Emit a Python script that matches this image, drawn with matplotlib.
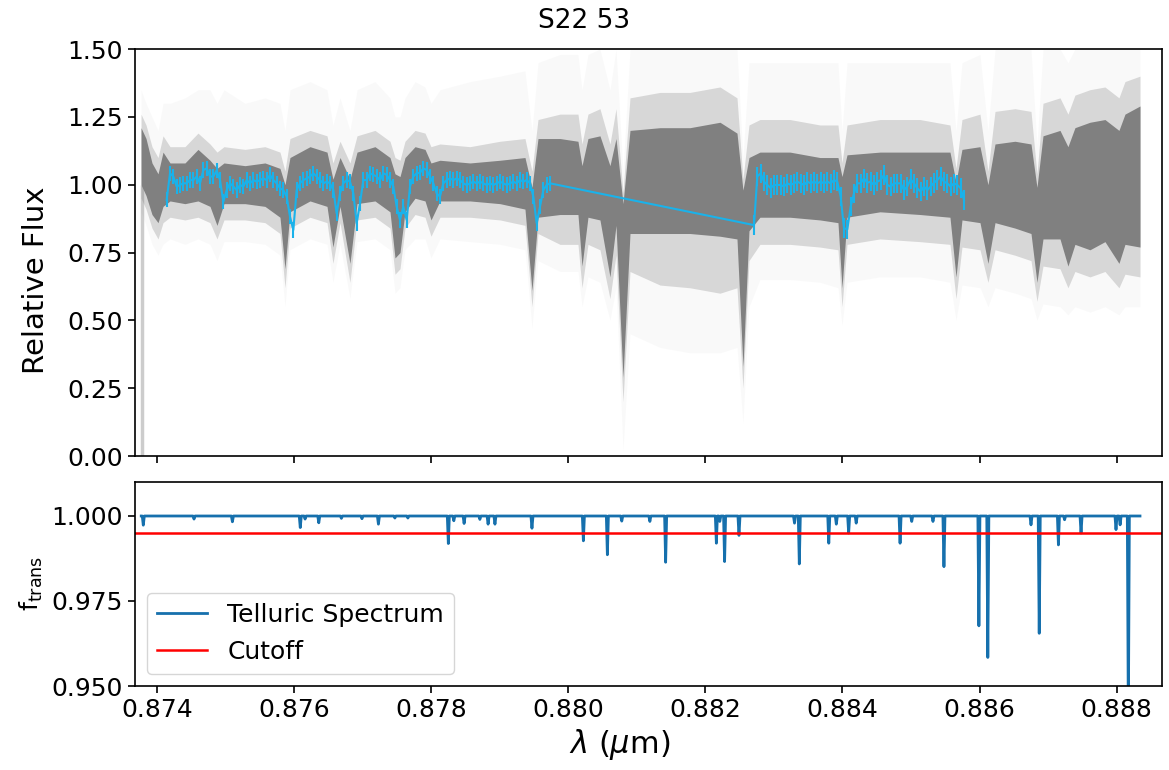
import numpy as np
import matplotlib
matplotlib.use("Agg")
import matplotlib.pyplot as plt
from matplotlib.ticker import FormatStrFormatter

# observed spectrum, two chunks on a regular pixel grid (um)
obs1_start, obs1_end = 0.874141, 0.879733
obs1_flux = [0.944, 1.042, 1.030, 0.993, 0.999, 1.005, 1.005, 1.017, 1.017, 1.030,
             1.005, 1.054, 1.060, 1.030, 1.030, 1.052, 1.017, 0.937, 0.980, 1.005,
             0.993, 0.980, 0.999, 0.993, 1.017, 1.005, 1.017, 1.011, 1.017, 1.023,
             1.017, 1.036, 1.017, 1.005, 0.987, 0.980, 0.956, 0.882, 0.833, 0.980,
             1.005, 1.017, 1.023, 1.030, 1.042, 1.030, 1.017, 1.005, 1.011, 1.005,
             0.980, 0.894, 0.968, 1.005, 1.017, 1.011,
             0.968, 0.858, 0.931, 1.017, 1.017, 1.042, 1.036, 1.030, 1.017, 1.042,
             1.036, 1.017, 0.993, 0.919, 0.870, 0.919, 0.870, 0.993, 1.030, 1.042,
             1.044, 1.060, 1.054, 1.030, 1.005, 0.968, 0.956, 1.005, 1.017, 1.023,
             1.017, 1.023, 1.017, 1.005, 0.999, 1.005, 1.011, 1.005, 1.011, 1.005,
             0.999, 1.005, 0.999, 1.005, 1.011, 1.005, 0.999, 1.005, 1.011, 1.005,
             1.017, 1.011, 1.017, 1.005, 0.956, 0.858, 0.919, 0.980, 0.999, 1.005]
obs1_err = 0.028

obs2_start, obs2_end = 0.882709, 0.885772
obs2_flux = [0.851, 1.030, 1.042, 1.011, 0.999, 0.987, 0.999, 0.999, 0.999, 0.993,
             1.005, 0.999, 1.005, 1.011, 1.005, 0.999, 1.011, 1.005, 1.011, 1.005,
             1.011, 1.005, 1.011, 1.005, 1.017, 1.011, 0.956, 0.840, 0.835, 0.919,
             0.968, 1.005, 1.005, 1.023, 1.007, 1.011, 0.999, 1.011, 1.017, 1.036,
             0.999, 0.993, 1.005, 1.005, 1.005, 0.980, 0.993, 1.020, 1.005, 0.987,
             0.974, 0.993, 0.980, 0.993, 1.007, 1.017, 1.030, 1.011, 1.005, 0.993,
             1.005, 0.999, 0.987, 0.944]
obs2_err = 0.036

# model spectra fan: dense core, half-faded and faint envelopes
env_wave = [0.873767, 0.873840, 0.873927, 0.874015, 0.874088, 0.874190, 0.874408, 0.874598,
            0.874773, 0.874875, 0.874977, 0.875284, 0.875575, 0.875794, 0.875867, 0.875940,
            0.876232, 0.876480, 0.876567, 0.876670, 0.876815, 0.876918, 0.877180, 0.877399,
            0.877472, 0.877545, 0.877618, 0.877764, 0.877910, 0.877997, 0.878128, 0.878566,
            0.879004, 0.879368, 0.879470, 0.879558, 0.879879, 0.880141, 0.880200, 0.880287,
            0.880462, 0.880608, 0.880696, 0.880798, 0.880900, 0.881338, 0.881775, 0.882213,
            0.882461, 0.882548, 0.882636, 0.882796, 0.883234, 0.883672, 0.883934, 0.883993,
            0.884066, 0.884547, 0.885131, 0.885568, 0.885656, 0.885743, 0.886006, 0.886122,
            0.886225, 0.886516, 0.886750, 0.886837, 0.886925, 0.887173, 0.887289, 0.887391,
            0.887610, 0.887829, 0.888033, 0.888121, 0.888340]
core_lo = [1.00, 0.96, 0.89, 0.86, 0.92, 0.94, 0.93, 0.94, 0.92, 0.85, 0.93, 0.93, 0.92, 0.88,
           0.69, 0.90, 0.94, 0.92, 0.77, 0.92, 0.71, 0.93, 0.94, 0.90, 0.73, 0.75, 0.90, 0.95,
           0.94, 0.87, 0.94, 0.94, 0.93, 0.91, 0.61, 0.88, 0.89, 0.89, 0.70, 0.88, 0.87, 0.66,
           0.85, 0.29, 0.82, 0.82, 0.82, 0.81, 0.80, 0.33, 0.83, 0.88, 0.88, 0.87, 0.86, 0.62,
           0.88, 0.90, 0.89, 0.88, 0.66, 0.87, 0.86, 0.71, 0.86, 0.84, 0.82, 0.64, 0.80, 0.80,
           0.70, 0.78, 0.76, 0.79, 0.71, 0.78, 0.77]
core_hi = [1.21, 1.17, 1.08, 1.04, 1.12, 1.08, 1.08, 1.13, 1.09, 1.06, 1.08, 1.07, 1.08, 1.06,
           1.00, 1.10, 1.14, 1.12, 1.02, 1.10, 1.02, 1.12, 1.14, 1.10, 1.04, 1.03, 1.10, 1.14,
           1.13, 1.08, 1.09, 1.08, 1.09, 1.10, 0.99, 1.17, 1.17, 1.16, 1.07, 1.17, 1.18, 1.07,
           1.17, 0.93, 1.20, 1.21, 1.21, 1.23, 1.19, 0.98, 1.10, 1.12, 1.12, 1.10, 1.10, 1.03,
           1.11, 1.12, 1.12, 1.12, 1.01, 1.13, 1.14, 1.00, 1.15, 1.16, 1.15, 0.99, 1.18, 1.20,
           1.14, 1.21, 1.23, 1.24, 1.20, 1.26, 1.29]
mid_lo = [0.95, 0.91, 0.84, 0.80, 0.86, 0.88, 0.87, 0.88, 0.86, 0.80, 0.87, 0.87, 0.86, 0.82,
          0.62, 0.84, 0.88, 0.86, 0.71, 0.86, 0.64, 0.87, 0.88, 0.84, 0.67, 0.69, 0.84, 0.89,
          0.88, 0.81, 0.88, 0.88, 0.87, 0.85, 0.55, 0.82, 0.78, 0.78, 0.62, 0.78, 0.76, 0.58,
          0.74, 0.20, 0.68, 0.63, 0.62, 0.60, 0.62, 0.25, 0.72, 0.78, 0.78, 0.77, 0.76, 0.55,
          0.78, 0.80, 0.79, 0.78, 0.58, 0.77, 0.76, 0.64, 0.76, 0.74, 0.72, 0.57, 0.70, 0.69,
          0.62, 0.68, 0.66, 0.68, 0.62, 0.67, 0.66]
mid_hi = [1.26, 1.22, 1.14, 1.10, 1.18, 1.14, 1.14, 1.19, 1.15, 1.12, 1.14, 1.13, 1.14, 1.12,
          1.05, 1.17, 1.20, 1.18, 1.08, 1.16, 1.08, 1.18, 1.20, 1.16, 1.10, 1.09, 1.16, 1.20,
          1.19, 1.14, 1.15, 1.14, 1.16, 1.17, 1.05, 1.24, 1.26, 1.26, 1.15, 1.26, 1.28, 1.15,
          1.28, 0.97, 1.32, 1.34, 1.34, 1.36, 1.32, 1.02, 1.22, 1.24, 1.24, 1.22, 1.22, 1.08,
          1.22, 1.24, 1.24, 1.22, 1.06, 1.24, 1.26, 1.05, 1.27, 1.28, 1.27, 1.04, 1.30, 1.32,
          1.26, 1.33, 1.35, 1.36, 1.32, 1.38, 1.40]
far_lo = [0.90, 0.85, 0.78, 0.74, 0.78, 0.80, 0.78, 0.80, 0.78, 0.72, 0.79, 0.79, 0.78, 0.74,
          0.55, 0.76, 0.80, 0.78, 0.64, 0.78, 0.58, 0.79, 0.80, 0.76, 0.60, 0.62, 0.76, 0.80,
          0.80, 0.73, 0.80, 0.79, 0.78, 0.76, 0.47, 0.72, 0.68, 0.68, 0.55, 0.66, 0.64, 0.50,
          0.62, 0.02, 0.45, 0.40, 0.38, 0.38, 0.40, 0.12, 0.55, 0.65, 0.65, 0.64, 0.62, 0.48,
          0.64, 0.66, 0.66, 0.64, 0.50, 0.63, 0.62, 0.55, 0.62, 0.60, 0.58, 0.50, 0.56, 0.55,
          0.52, 0.55, 0.53, 0.55, 0.52, 0.55, 0.55]
far_hi = [1.35, 1.30, 1.25, 1.20, 1.30, 1.30, 1.32, 1.35, 1.35, 1.30, 1.35, 1.30, 1.32, 1.30,
          1.20, 1.35, 1.38, 1.35, 1.22, 1.32, 1.20, 1.35, 1.38, 1.32, 1.25, 1.25, 1.32, 1.38,
          1.36, 1.30, 1.35, 1.38, 1.40, 1.42, 1.20, 1.45, 1.48, 1.48, 1.35, 1.48, 1.50, 1.35,
          1.50, 1.05, 1.50, 1.50, 1.50, 1.50, 1.50, 1.10, 1.45, 1.45, 1.45, 1.45, 1.45, 1.20,
          1.45, 1.45, 1.45, 1.45, 1.20, 1.45, 1.48, 1.20, 1.50, 1.50, 1.50, 1.15, 1.50, 1.50,
          1.45, 1.50, 1.50, 1.50, 1.50, 1.50, 1.50]
# thin spike at the blue end of the model grid
edge_wave, edge_lo, edge_hi = 0.87378, 0.0, 1.0

# telluric transmission: line centres (um) and minimum transmission
tell_start, tell_end = 0.87377, 0.88834
tell_centre = [0.87380, 0.87454, 0.87510, 0.87609, 0.87616, 0.87636, 0.87669, 0.87699,
               0.87723, 0.87747, 0.87766, 0.87825, 0.87833, 0.87848, 0.87871, 0.87883,
               0.87893, 0.87947, 0.88022, 0.88057, 0.88078, 0.88119, 0.88142, 0.88216,
               0.88221, 0.88228, 0.88249, 0.88330, 0.88337, 0.88380, 0.88391, 0.88409,
               0.88420, 0.88484, 0.88501, 0.88532, 0.88548, 0.88599, 0.88612, 0.88675,
               0.88687, 0.88715, 0.88724, 0.88748, 0.88799, 0.88805, 0.88817]
tell_depth = [0.9973, 0.9991, 0.9983, 0.9966, 0.9991, 0.9980, 0.9993, 0.9992,
              0.9976, 0.9994, 0.9994, 0.9919, 0.9986, 0.9978, 0.9990, 0.9976,
              0.9976, 0.9964, 0.9927, 0.9886, 0.9985, 0.9984, 0.9864, 0.9920,
              0.9984, 0.9866, 0.9943, 0.9979, 0.9859, 0.9920, 0.9976, 0.9950,
              0.9979, 0.9920, 0.9984, 0.9984, 0.9851, 0.9677, 0.9584, 0.9974,
              0.9655, 0.9915, 0.9989, 0.9950, 0.9960, 0.9974, 0.9400]
cutoff = 0.995

obs_color = '#1ab2ea'
fan_color = '#808080'
fs = 18

fig = plt.figure(figsize=(11.69, 7.7), dpi=100)
ax1 = fig.add_axes([0.11548, 0.40779, 0.87853, 0.52857])
ax2 = fig.add_axes([0.11548, 0.10909, 0.87853, 0.26494], sharex=ax1)

# top panel
ax1.vlines(edge_wave, edge_lo, edge_hi, color='0.8', lw=2.5, zorder=1)
ax1.fill_between(env_wave, far_lo, far_hi, color=fan_color, alpha=0.045, lw=0, zorder=1)
ax1.fill_between(env_wave, mid_lo, mid_hi, color=fan_color, alpha=0.28, lw=0, zorder=2)
ax1.fill_between(env_wave, core_lo, core_hi, color=fan_color, alpha=1.0, lw=0, zorder=3)

wave1 = np.linspace(obs1_start, obs1_end, len(obs1_flux))
wave2 = np.linspace(obs2_start, obs2_end, len(obs2_flux))
obs_wave = np.concatenate([wave1, wave2])
obs_flux = np.concatenate([obs1_flux, obs2_flux])
obs_err = np.concatenate([np.full(len(obs1_flux), obs1_err), np.full(len(obs2_flux), obs2_err)])
ax1.errorbar(obs_wave, obs_flux, yerr=obs_err, color=obs_color, lw=1.5,
             elinewidth=1.5, capsize=0, zorder=5)

ax1.set_ylim(0, 1.5)
ax1.set_yticks([0, 0.25, 0.5, 0.75, 1.0, 1.25, 1.5])
ax1.yaxis.set_major_formatter(FormatStrFormatter('%.2f'))
ax1.set_ylabel('Relative Flux', fontsize=21)
ax1.yaxis.set_label_coords(-0.083, 0.432)
ax1.tick_params(labelbottom=False)

# bottom panel: telluric spectrum as narrow absorption spikes
hw = 0.000015
tx, ty = [tell_start], [1.0]
for c, d in zip(tell_centre, tell_depth):
    tx += [c - hw, c, c + hw]
    ty += [1.0, d, 1.0]
tx.append(tell_end)
ty.append(1.0)
ax2.plot(tx, ty, color='#1670ad', lw=2, label='Telluric Spectrum')
ax2.axhline(cutoff, color='red', lw=1.8, label='Cutoff')

ax2.set_ylim(0.95, 1.01)
ax2.set_yticks([0.95, 0.975, 1.0])
ax2.yaxis.set_major_formatter(FormatStrFormatter('%.3f'))
ax2.set_xlim(0.873679, 0.888661)
ax2.set_xticks([0.874, 0.876, 0.878, 0.880, 0.882, 0.884, 0.886, 0.888])
ax2.xaxis.set_major_formatter(FormatStrFormatter('%.3f'))
ax2.set_ylabel(r'$\mathrm{f}_{\mathrm{trans}}$', fontsize=fs)
ax2.yaxis.set_label_coords(-0.088, 0.505)
ax2.set_xlabel(r'$\lambda$ ($\mu$m)', fontsize=22)
ax2.xaxis.set_label_coords(0.472, -0.2)
ax2.legend(loc='lower left', fontsize=fs)

for ax in (ax1, ax2):
    ax.tick_params(labelsize=fs, length=5, width=1.2)
    for s in ax.spines.values():
        s.set_linewidth(1.2)

fig.suptitle('S22 53', fontsize=19, y=0.99)

fig.savefig('out.png', dpi=100)
